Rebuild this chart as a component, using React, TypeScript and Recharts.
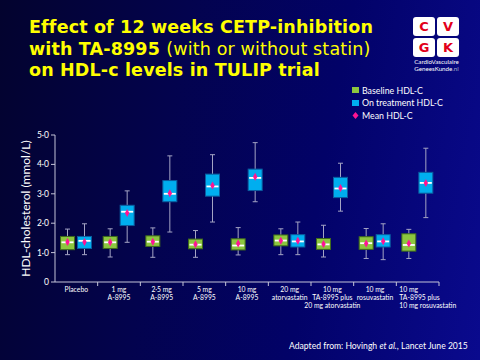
import { ComposedChart, Bar, XAxis, YAxis } from "recharts"

// group labels under the x axis, one entry per line
const categories = [
  ["Placebo"],
  ["1 mg", "A-8995"],
  ["2·5 mg", "A-8995"],
  ["5 mg", "A-8995"],
  ["10 mg", "A-8995"],
  ["20 mg", "atorvastatin"],
  ["10 mg", "TA-8995 plus", "20 mg atorvastatin"],
  ["10 mg", "rosuvastatin"],
  ["10 mg", "TA-8995 plus", "10 mg rosuvastatin"],
]

// baseline HDL-C (mmol/L)
const baseMin = [0.93, 0.85, 0.84, 0.84, 0.92, 0.93, 0.85, 0.8, 0.8]
const baseQ1 = [1.1, 1.14, 1.21, 1.13, 1.09, 1.23, 1.11, 1.11, 1.05]
const baseMedian = [1.35, 1.35, 1.37, 1.27, 1.24, 1.41, 1.28, 1.32, 1.26]
const baseQ3 = [1.55, 1.55, 1.57, 1.46, 1.47, 1.6, 1.48, 1.54, 1.64]
const baseMax = [1.8, 1.81, 1.84, 1.75, 1.85, 1.81, 1.93, 1.82, 1.79]
const baseMean = [1.36, 1.35, 1.37, 1.28, 1.31, 1.4, 1.29, 1.31, 1.31]

// on treatment HDL-C (mmol/L)
const treatMin = [0.93, 1.35, 1.7, 2.04, 2.73, 0.93, 2.41, 0.76, 2.19]
const treatQ1 = [1.14, 1.92, 2.73, 2.92, 3.11, 1.19, 2.87, 1.19, 3.02]
const treatMedian = [1.4, 2.39, 3.0, 3.25, 3.54, 1.38, 3.18, 1.38, 3.37]
const treatQ3 = [1.55, 2.61, 3.45, 3.67, 3.84, 1.61, 3.56, 1.61, 3.73]
const treatMax = [1.98, 3.1, 4.29, 4.33, 4.74, 2.04, 4.04, 1.98, 4.55]
const treatMean = [1.36, 2.35, 3.02, 3.28, 3.58, 1.4, 3.2, 1.39, 3.37]

const yTicks = [0, 1, 2, 3, 4, 5]

const data = categories.map((lines, i) => ({
  name: lines.join(" "),
  lines,
  baseRange: [baseMin[i], baseMax[i]],
  treatRange: [treatMin[i], treatMax[i]],
  base: { min: baseMin[i], q1: baseQ1[i], med: baseMedian[i], q3: baseQ3[i], max: baseMax[i], mean: baseMean[i] },
  treat: { min: treatMin[i], q1: treatQ1[i], med: treatMedian[i], q3: treatQ3[i], max: treatMax[i], mean: treatMean[i] },
}))

const GREEN = "#8cc63f"
const BLUE = "#00aeef"
const PINK = "#ff1493"
const AXIS = "#c4c4d8"
const WHISKER = "#a4a4c4"
const FONT = "Lato, 'Open Sans', sans-serif"

const CHART_W = 480
const MARGIN = { top: 135, right: 41, bottom: 48, left: 25 }
const Y_AXIS_W = 30
const BAND = (CHART_W - MARGIN.left - MARGIN.right - Y_AXIS_W) / categories.length

// box + whiskers drawn inside the range bar [min, max]
function makeBox(key: "base" | "treat", fill: string, stroke: string) {
  return (props: any) => {
    const { x, y, width, height, payload } = props
    const s = payload[key]
    const unit = Math.abs(height) / (s.max - s.min)
    const top = Math.min(y, y + height)
    const py = (v: number) => top + (s.max - v) * unit
    const cx = x + width / 2
    const my = py(s.mean)
    return (
      <g>
        <line x1={cx} x2={cx} y1={py(s.max)} y2={py(s.q3)} stroke={WHISKER} strokeWidth={1} />
        <line x1={cx} x2={cx} y1={py(s.q1)} y2={py(s.min)} stroke={WHISKER} strokeWidth={1} />
        <line x1={cx - 2.5} x2={cx + 2.5} y1={py(s.max)} y2={py(s.max)} stroke={WHISKER} strokeWidth={1} />
        <line x1={cx - 2.5} x2={cx + 2.5} y1={py(s.min)} y2={py(s.min)} stroke={WHISKER} strokeWidth={1} />
        <rect x={x + 0.5} y={py(s.q3)} width={width - 1} height={py(s.q1) - py(s.q3)} fill={fill} stroke={stroke} strokeWidth={1} />
        <line x1={x + 1.5} x2={x + width - 1.5} y1={py(s.med)} y2={py(s.med)} stroke="#ffffff" strokeWidth={1.8} />
        <polygon points={`${cx},${my - 4} ${cx + 2.2},${my} ${cx},${my + 4} ${cx - 2.2},${my}`} fill={PINK} />
      </g>
    )
  }
}

const CategoryTick = (props: any) => {
  const { x, y, payload, index } = props
  const lines = categories[index] || [payload.value]
  const last = index === categories.length - 1
  return (
    <g>
      <line x1={x + BAND / 2} x2={x + BAND / 2} y1={y - 8} y2={y - 4} stroke={AXIS} strokeWidth={1} />
      {lines.map((l, i) => (
        <text
          key={i}
          x={last ? x - BAND / 2 + 3 : x}
          y={y + 1.5 + i * 8}
          textAnchor={last ? "start" : "middle"}
          fill="#ffffff"
          fontSize={6.8}
          fontFamily={FONT}
        >
          {l}
        </text>
      ))}
    </g>
  )
}

const YLabel = (props: any) => {
  const vb = props.viewBox
  const cx = vb.x + 5
  const cy = vb.y + vb.height / 2
  return (
    <text x={cx} y={cy} transform={`rotate(-90 ${cx} ${cy})`} textAnchor="middle" fill="#ffffff" fontSize={12} fontFamily={FONT}>
      HDL-cholesterol (mmol/L)
    </text>
  )
}

const legendItems = [
  { label: "Baseline HDL-C", color: GREEN, kind: "square" },
  { label: "On treatment HDL-C", color: BLUE, kind: "square" },
  { label: "Mean HDL-C", color: PINK, kind: "diamond" },
]

function Logo() {
  const cells = ["C", "V", "G", "K"]
  return (
    <div style={{ position: "absolute", left: 413, top: 17, width: 47 }}>
      <div style={{ display: "grid", gridTemplateColumns: "22px 22px", gap: 2 }}>
        {cells.map((c) => (
          <div
            key={c}
            style={{
              width: 22, height: 19, background: "#ffffff", borderRadius: 3, color: "#e2001a",
              fontFamily: "'DejaVu Sans', sans-serif", fontWeight: "bold", fontSize: 13,
              display: "flex", alignItems: "center", justifyContent: "center",
            }}
          >
            {c}
          </div>
        ))}
      </div>
      <div style={{ color: "#ffffff", fontFamily: FONT, fontSize: 6.2, lineHeight: "7px", textAlign: "center", marginTop: 1 }}>
        CardioVasculaire
        <br />
        GeneesKunde<span style={{ color: "#aaaacc" }}>.nl</span>
      </div>
    </div>
  )
}

export default function App() {
  return (
    <div
      style={{
        position: "absolute", left: 0, top: 0, width: 480, height: 360, overflow: "hidden",
        background: "linear-gradient(100deg, #03032e 0%, #03034e 35%, #020268 65%, #0a0a8e 100%)",
      }}
    >
      <div
        style={{
          position: "absolute", left: 29, top: 17, color: "#ffff00", fontFamily: "'DejaVu Sans', Verdana, sans-serif",
          fontSize: 17.5, lineHeight: "21.5px", fontWeight: "bold", whiteSpace: "nowrap", letterSpacing: 0.15,
        }}
      >
        <div>Effect of 12 weeks CETP-inhibition</div>
        <div>
          with TA-8995 <span style={{ fontWeight: "normal" }}>(with or without statin)</span>
        </div>
        <div>on HDL-c levels in TULIP trial</div>
      </div>

      <Logo />

      <div style={{ position: "absolute", left: 352, top: 84, fontFamily: FONT, fontSize: 8.8, color: "#ffffff" }}>
        {legendItems.map((it) => (
          <div key={it.label} style={{ display: "flex", alignItems: "center", height: 12.5 }}>
            {it.kind === "square" ? (
              <span style={{ width: 7, height: 6, background: it.color, marginRight: 3 }} />
            ) : (
              <svg width={7} height={7} style={{ marginRight: 3 }}>
                <polygon points="3.5,0 6.5,3.5 3.5,7 0.5,3.5" fill={it.color} />
              </svg>
            )}
            <span>{it.label}</span>
          </div>
        ))}
      </div>

      <div style={{ position: "absolute", left: 289, top: 341, fontFamily: FONT, fontSize: 8.6, color: "#ffffff", whiteSpace: "nowrap" }}>
        Adapted from: Hovingh <i>et al.</i>, Lancet June 2015
      </div>

      <div style={{ position: "absolute", left: 0, top: 0 }}>
        <ComposedChart width={CHART_W} height={360} data={data} margin={MARGIN} barSize={15} barGap={2}>
          <XAxis
            dataKey="name"
            height={30}
            interval={0}
            tickLine={false}
            axisLine={{ stroke: AXIS, strokeWidth: 1 }}
            tick={<CategoryTick />}
          />
          <YAxis
            width={Y_AXIS_W}
            domain={[0, 5]}
            ticks={yTicks}
            interval={0}
            tickSize={4}
            tickMargin={2}
            axisLine={{ stroke: AXIS, strokeWidth: 1 }}
            tickLine={{ stroke: AXIS, strokeWidth: 1 }}
            tick={{ fill: "#ffffff", fontSize: 8.5, fontFamily: FONT }}
            tickFormatter={(v: number) => (v === 0 ? "0" : v.toFixed(1).replace(".", "·"))}
            label={{ content: <YLabel /> }}
          />
          <Bar dataKey="baseRange" shape={makeBox("base", GREEN, "#3f6b1c")} isAnimationActive={false} />
          <Bar dataKey="treatRange" shape={makeBox("treat", BLUE, "#0b5c9e")} isAnimationActive={false} />
        </ComposedChart>
      </div>
    </div>
  )
}
